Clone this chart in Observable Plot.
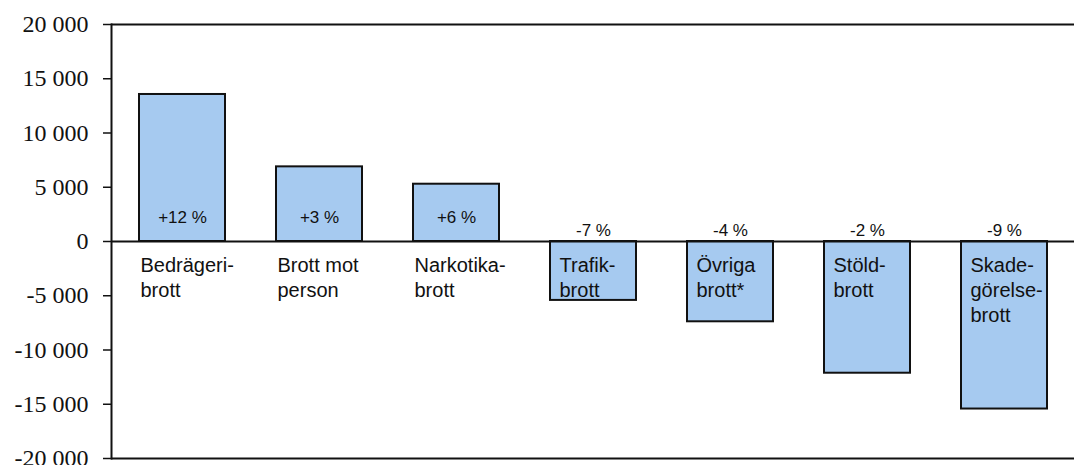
<!DOCTYPE html>
<html><head><meta charset="utf-8">
<script src="https://cdn.jsdelivr.net/npm/d3@7"></script>
<script src="https://cdn.jsdelivr.net/npm/@observablehq/plot@0.6"></script>
<style>body{margin:0;background:#fff}</style>
</head><body><div id="chart"></div>
<script>
const categories = ["Bedrägeri-\nbrott", "Brott mot\nperson", "Narkotika-\nbrott", "Trafik-\nbrott", "Övriga\nbrott*", "Stöld-\nbrott", "Skade-\ngörelse-\nbrott"];
const values = [13550, 6880, 5280, -5430, -7400, -12140, -15440];
const changes = ["+12 %", "+3 %", "+6 %", "-7 %", "-4 %", "-2 %", "-9 %"];
const yTicks = [-20000, -15000, -10000, -5000, 0, 5000, 10000, 15000, 20000];

const data = categories.map((c, i) => ({cat: c, value: values[i], change: changes[i]}));
const pos = data.filter(d => d.value > 0);
const neg = data.filter(d => d.value < 0);
const fmt = d3.formatLocale({thousands: "\u00a0", grouping: [3], decimal: ",", minus: "-", currency: ["", ""]}).format(",");

const catStyle = {x: "cat", y: 0, text: "cat", textAnchor: "start", dy: 13, lineAnchor: "top", lineHeight: 1.25, fontSize: 20, fontFamily: "Liberation Sans", fill: "#111"};
const pctStyle = {x: "cat", y: 0, text: "change", fontSize: 17, fontFamily: "Liberation Sans", fill: "#111"};

const chart = Plot.plot({
  width: 1074,
  height: 465,
  marginLeft: 111,
  marginRight: 0,
  marginTop: 24,
  marginBottom: 7,
  x: {domain: categories, paddingInner: 0.374, paddingOuter: 0.19, axis: null},
  y: {domain: [-20000, 20000], axis: null},
  marks: [
    Plot.barY(data, {x: "cat", y: "value", fill: "#a6caf0", stroke: "#111", strokeWidth: 2}),
    Plot.ruleY([0], {stroke: "#111", strokeWidth: 2}),
    Plot.ruleY([20000, -20000], {stroke: "#111", strokeWidth: 2}),
    Plot.frame({anchor: "left", stroke: "#111", strokeWidth: 2}),
    Plot.axisY(yTicks, {label: null, tickSize: 8, tickPadding: 15, tickFormat: fmt, fontFamily: "Liberation Serif", fontSize: 24, fill: "#111", stroke: "#111", strokeWidth: 1.5}),
    Plot.text(pos, {...catStyle, dx: -42}),
    Plot.text(neg, {...catStyle, dx: -34}),
    Plot.text(pos, {...pctStyle, dy: -24}),
    Plot.text(neg, {...pctStyle, dy: -11})
  ]
});
document.getElementById("chart").append(chart);
</script>
</body></html>
